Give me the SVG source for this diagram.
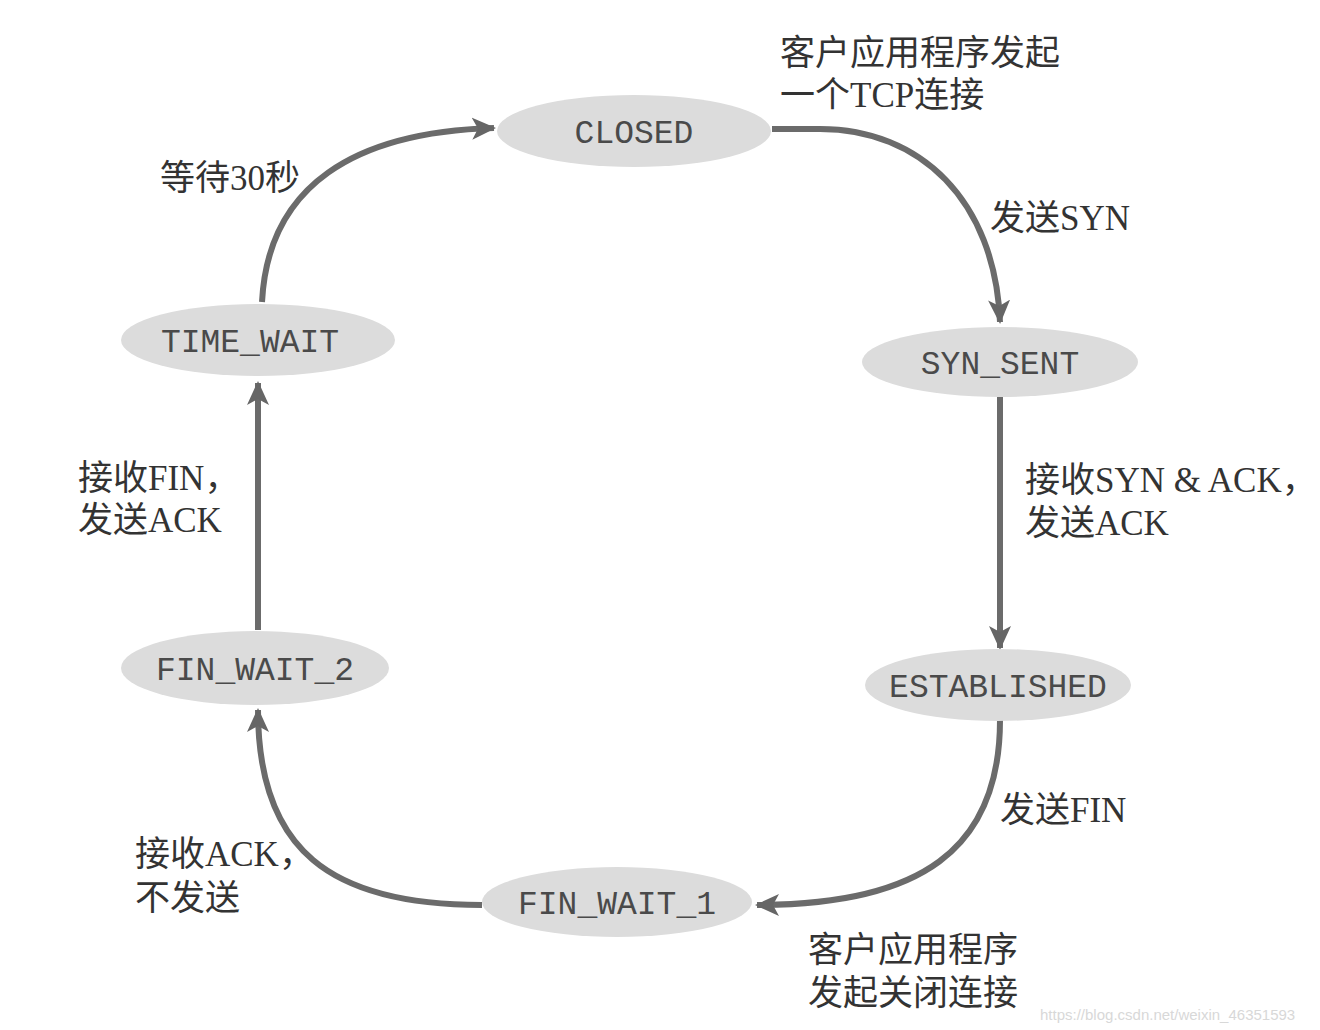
<svg xmlns="http://www.w3.org/2000/svg" width="1320" height="1030" viewBox="0 0 1320 1030">
<style>
.st{fill:#dcdcdc;}
.sl{font-family:"Liberation Mono","DejaVu Sans Mono",monospace;font-size:33px;fill:#4a4a4a;text-anchor:middle;}
.lb{font-family:"Liberation Serif","Noto Sans CJK SC",serif;font-size:35px;fill:#333;}
.ln{fill:none;stroke:#6b6b6b;stroke-width:6;}
.wm{font-family:"Liberation Sans",sans-serif;font-size:15px;fill:#d8d8d8;}
</style>
<defs>
<marker id="ah" markerUnits="userSpaceOnUse" markerWidth="26" markerHeight="26" viewBox="0 0 26 26" refX="22" refY="13" orient="auto">
<path d="M0,2 L24,13 L0,24 L6,13 Z" fill="#666"/>
</marker>
</defs>
<rect width="1320" height="1030" fill="#fff"/>
<g id="connectors">
<path class="ln" d="M772,129 H820 C920,129 995,200 1000,322" marker-end="url(#ah)"/>
<path class="ln" d="M1000,397 V648" marker-end="url(#ah)"/>
<path class="ln" d="M1000,720 C1000,850 920,905 757,905" marker-end="url(#ah)"/>
<path class="ln" d="M482,905 C330,905 258,850 258,710" marker-end="url(#ah)"/>
<path class="ln" d="M258,630 V383" marker-end="url(#ah)"/>
<path class="ln" d="M262,302 C268,185 355,132 494,128" marker-end="url(#ah)"/>
</g>
<g id="closed"><ellipse class="st" cx="634" cy="131" rx="137" ry="36"/><text class="sl" x="634" y="143">CLOSED</text></g>
<g id="syn_sent"><ellipse class="st" cx="1000" cy="362" rx="138" ry="35"/><text class="sl" x="1000" y="374">SYN_SENT</text></g>
<g id="established"><ellipse class="st" cx="998" cy="685" rx="133" ry="36"/><text class="sl" x="998" y="697">ESTABLISHED</text></g>
<g id="fin_wait_1"><ellipse class="st" cx="617" cy="902" rx="135" ry="35"/><text class="sl" x="617" y="914">FIN_WAIT_1</text></g>
<g id="fin_wait_2"><ellipse class="st" cx="255" cy="668" rx="134" ry="37"/><text class="sl" x="255" y="680">FIN_WAIT_2</text></g>
<g id="time_wait"><ellipse class="st" cx="258" cy="340" rx="137" ry="36"/><text class="sl" x="250" y="352">TIME_WAIT</text></g>
<g id="labels">
<text class="lb" x="780" y="65">客户应用程序发起</text>
<text class="lb" x="780" y="107">一个TCP连接</text>
<text class="lb" x="990" y="230">发送SYN</text>
<text class="lb" x="1025" y="492">接收SYN &amp; ACK，</text>
<text class="lb" x="1025" y="535">发送ACK</text>
<text class="lb" x="1000" y="822">发送FIN</text>
<text class="lb" x="808" y="962">客户应用程序</text>
<text class="lb" x="808" y="1005">发起关闭连接</text>
<text class="lb" x="135" y="866">接收ACK，</text>
<text class="lb" x="135" y="910">不发送</text>
<text class="lb" x="78" y="490">接收FIN，</text>
<text class="lb" x="78" y="532">发送ACK</text>
<text class="lb" x="160" y="190">等待30秒</text>
</g>
<text class="wm" x="1040" y="1020">https://blog.csdn.net/weixin_46351593</text>
</svg>
